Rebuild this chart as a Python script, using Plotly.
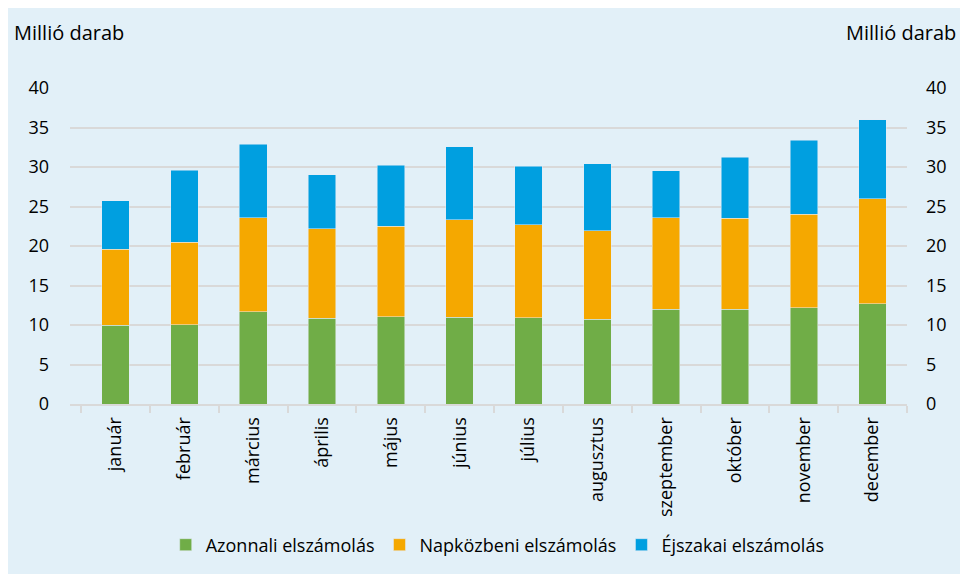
import plotly.graph_objects as go

honapok = ["január", "február", "március", "április", "május", "június",
           "július", "augusztus", "szeptember", "október", "november", "december"]

# cumulative tops
zold_teteje = [9.97, 10.06, 11.7, 10.85, 11.07, 10.98, 10.9, 10.7, 12.0, 12.0, 12.2, 12.66]
narancs_teteje = [19.56, 20.5, 23.6, 22.2, 22.5, 23.3, 22.7, 21.9, 23.6, 23.5, 24.0, 26.0]
kek_teteje = [25.7, 29.6, 32.9, 29.0, 30.2, 32.55, 30.1, 30.4, 29.5, 31.25, 33.4, 36.0]

azonnali = zold_teteje
napkozbeni = [round(o - g, 2) for o, g in zip(narancs_teteje, zold_teteje)]
ejszakai = [round(b - o, 2) for b, o in zip(kek_teteje, narancs_teteje)]

hatter = "#E2F0F8"
racs = "#D9D9D9"
betu = "'Open Sans', Lato, sans-serif"

fig = go.Figure()
fig.add_trace(go.Bar(x=honapok, y=azonnali, name="Azonnali elszámolás", marker_color="#70AD47"))
fig.add_trace(go.Bar(x=honapok, y=napkozbeni, name="Napközbeni elszámolás", marker_color="#F5A800"))
fig.add_trace(go.Bar(x=honapok, y=ejszakai, name="Éjszakai elszámolás", marker_color="#009FE0"))
# dummy trace so the right axis is drawn
fig.add_trace(go.Scatter(x=[honapok[0]], y=[0], yaxis="y2", mode="markers",
                         marker=dict(opacity=0), showlegend=False, hoverinfo="skip"))

# page body adds 8px, so the figure is 960x566
fig.update_layout(
    width=960, height=566,
    barmode="stack", bargap=0.6,
    paper_bgcolor=hatter, plot_bgcolor=hatter,
    font=dict(family=betu, size=18, color="#000000"),
    margin=dict(l=62, r=61, t=80, b=169),
    xaxis=dict(tickangle=-90, tickson="boundaries", ticks="outside", ticklen=7,
               tickcolor=racs, tickwidth=2, showline=True, linecolor=racs, linewidth=2,
               showgrid=False, ticklabelstandoff=4, automargin=False),
    yaxis=dict(range=[0, 40], dtick=5, showgrid=True, gridcolor=racs, gridwidth=2,
               zeroline=False, ticklabelstandoff=20, automargin=False),
    yaxis2=dict(range=[0, 40], dtick=5, overlaying="y", side="right", showgrid=False,
                zeroline=False, ticklabelstandoff=18, automargin=False),
    legend=dict(orientation="h", x=0.511, xanchor="center", y=-0.4416, yanchor="middle",
                bgcolor="rgba(0,0,0,0)", font=dict(size=18), traceorder="normal"),
    annotations=[
        dict(text="Millió darab", xref="paper", yref="paper", x=-58 / 837, y=1 + 56 / 317,
             xanchor="left", yanchor="middle", showarrow=False, font=dict(size=20)),
        dict(text="Millió darab", xref="paper", yref="paper", x=1 + 51 / 837, y=1 + 56 / 317,
             xanchor="right", yanchor="middle", showarrow=False, font=dict(size=20)),
    ],
)

fig.write_html("out.html")
